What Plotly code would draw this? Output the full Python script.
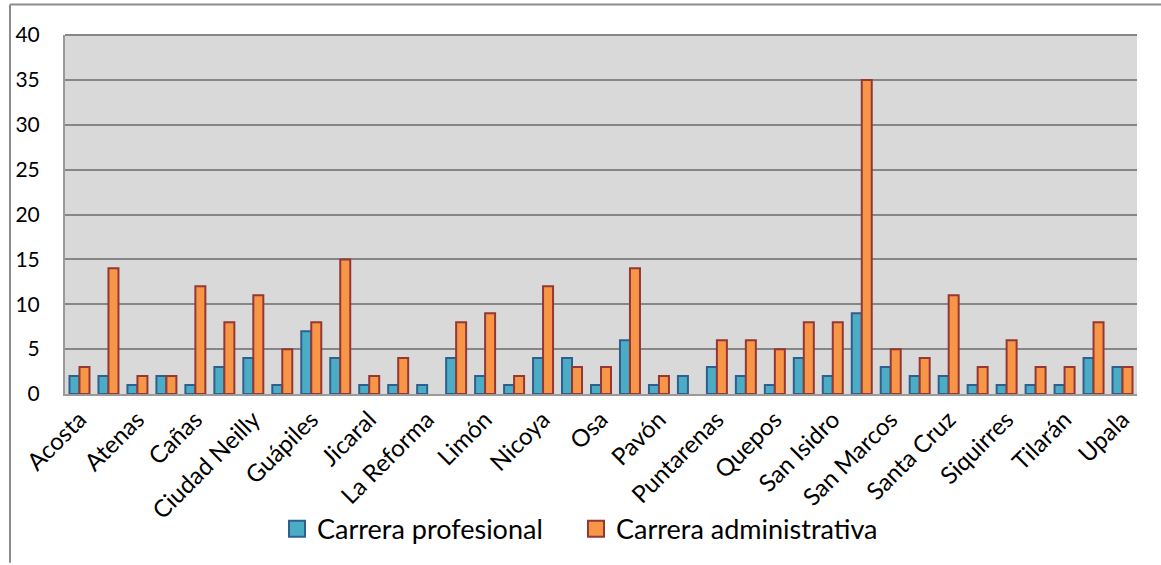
import plotly.graph_objects as go

categories = ["Acosta", "Alajuela", "Atenas", "Buenos Aires", "Cañas", "Cartago",
              "Ciudad Neilly", "Golfito", "Guápiles", "Heredia", "Jicaral", "La Cruz",
              "La Reforma", "Liberia", "Limón", "Los Chiles", "Nicoya", "Orotina",
              "Osa", "Palmar", "Pavón", "Pérez Zeledón", "Puntarenas", "Puriscal",
              "Quepos", "San Carlos", "San Isidro", "San José", "San Marcos", "San Ramón",
              "Santa Cruz", "Sarapiquí", "Siquirres", "Talamanca", "Tilarán", "Turrialba",
              "Upala"]
profesional = [2, 2, 1, 2, 1, 3, 4, 1, 7, 4, 1, 1, 1, 4, 2, 1, 4, 4, 1, 6, 1, 2,
               3, 2, 1, 4, 2, 9, 3, 2, 2, 1, 1, 1, 1, 4, 3]
administrativa = [3, 14, 2, 2, 12, 8, 11, 5, 8, 15, 2, 4, 0, 8, 9, 2, 12, 3, 3, 14, 2, 0,
                  6, 6, 5, 8, 8, 35, 5, 4, 11, 3, 6, 3, 3, 8, 3]
shown_labels = categories[::2]
y_ticks = [0, 5, 10, 15, 20, 25, 30, 35, 40]
series_names = ["Carrera profesional", "Carrera administrativa"]

font_family = "Lato, Carlito, Calibri, sans-serif"
fills = ["#4BACC6", "#F79646"]
borders = ["#2F5F8E", "#953735"]
legend_ids = ["legend", "legend2"]

def nz(vals):
    return [v if v != 0 else None for v in vals]

fig = go.Figure()
for name, vals, fc, bc in zip(series_names, [profesional, administrativa], fills, borders):
    fig.add_trace(go.Bar(
        x=categories, y=nz(vals), name=name, showlegend=False,
        marker=dict(color=fc, line=dict(color=bc, width=2)),
    ))
for name, fc, bc, lg in zip(series_names, fills, borders, legend_ids):
    fig.add_trace(go.Scatter(
        x=[None], y=[None], mode="markers", name=name, legend=lg,
        marker=dict(symbol="square", size=16, color=fc, line=dict(color=bc, width=2)),
    ))

W, H = 1161, 565
ml, mr, mt, mb = 65, 24, 35, 166
pw, ph = W - ml - mr, H - mt - mb

def px_x(p):
    return (p - ml) / pw

def px_y(p):
    return (H - mb - p) / ph

legend_style = dict(
    orientation="h", xanchor="left", yanchor="middle", y=px_y(536),
    font=dict(size=27, family=font_family), itemwidth=30,
    bgcolor="rgba(0,0,0,0)",
)

fig.update_layout(
    width=W, height=H,
    margin=dict(l=ml, r=mr, t=mt, b=mb, pad=0),
    paper_bgcolor="white",
    plot_bgcolor="#D9D9D9",
    barmode="group",
    bargap=0.31,
    bargroupgap=0,
    font=dict(family=font_family, color="black", size=22),
    showlegend=True,
    legend=dict(legend_style, x=px_x(277)),
    legend2=dict(legend_style, x=px_x(576)),
    xaxis=dict(
        type="category", tickmode="array", tickvals=shown_labels, ticktext=shown_labels,
        tickangle=-45, tickfont=dict(size=24), showgrid=False,
        showline=True, linecolor="#9A9A9A", linewidth=2,
        ticks="", automargin=False,
    ),
    yaxis=dict(
        range=[0, 40], tickvals=y_ticks, tickfont=dict(size=21),
        showgrid=True, gridcolor="#868686", gridwidth=2,
        showline=True, linecolor="#9A9A9A", linewidth=2, mirror=False,
        zeroline=False, ticks="", ticklabelstandoff=19, automargin=False,
    ),
    shapes=[
        dict(type="line", xref="paper", yref="paper", x0=px_x(10), x1=px_x(10),
             y0=px_y(4), y1=px_y(H + 5), line=dict(color="#8C8C8C", width=2)),
        dict(type="line", xref="paper", yref="paper", x0=px_x(10), x1=px_x(W + 5),
             y0=px_y(4), y1=px_y(4), line=dict(color="#8C8C8C", width=2)),
        dict(type="line", xref="paper", yref="paper", x0=0, x1=1,
             y0=1, y1=1, line=dict(color="#868686", width=2)),
    ],
)

fig.write_html("out.html", post_script="document.body.style.margin='0px';",
               config={"displayModeBar": False})
